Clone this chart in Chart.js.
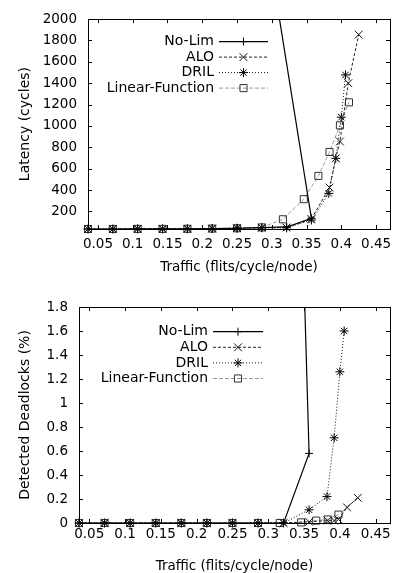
<!DOCTYPE html>
<html>
<head>
<meta charset="utf-8">
<script src="https://cdn.jsdelivr.net/npm/chart.js@4.4.0/dist/chart.umd.min.js"></script>
<style>
    html, body { margin: 0; padding: 0; background: #fff; }
    .box { position: absolute; left: 0; width: 408px; }
    #top-box { top: 0; height: 286px; }
    #bottom-box { top: 286px; height: 287px; }
</style>
</head>
<body>
<div class="box" id="top-box"><canvas id="latency-chart"></canvas></div>
<div class="box" id="bottom-box"><canvas id="deadlock-chart"></canvas></div>
<script>
// series names:
const seriesNames = ['No-Lim', 'ALO', 'DRIL', 'Linear-Function'];

// traffic (x) for each series:
const noLimTraffic = [0.0357, 0.0714, 0.1071, 0.1429, 0.1786, 0.2143, 0.25, 0.2857, 0.3214, 0.357, 0.300];
const aloTraffic = [0.0357, 0.0714, 0.1071, 0.1429, 0.1786, 0.2143, 0.25, 0.2857, 0.3214, 0.357, 0.383, 0.392, 0.398, 0.410, 0.425];
const drilTraffic = [0.0357, 0.0714, 0.1071, 0.1429, 0.1786, 0.2143, 0.25, 0.2857, 0.3214, 0.357, 0.382, 0.392, 0.400, 0.406];
const linearTraffic = [0.0357, 0.0714, 0.1071, 0.1429, 0.1786, 0.2143, 0.25, 0.2857, 0.316, 0.346, 0.367, 0.383, 0.398, 0.411];

// latency (cycles):
const noLimLatency = [36, 36, 37, 37, 38, 40, 43, 48, 55, 136, 2450];
const aloLatency = [36, 36, 37, 37, 38, 40, 43, 48, 50, 130, 424, 697, 855, 1400, 1855];
const drilLatency = [36, 36, 37, 37, 38, 40, 43, 48, 47, 120, 369, 697, 1082, 1478];
const linearLatency = [36, 36, 37, 37, 38, 40, 43, 51, 127, 315, 533, 757, 1006, 1221];

// detected deadlocks (%):
const noLimDeadlocks = [0, 0, 0, 0, 0, 0, 0, 0, 0, 0.58, 12.2];
const aloDeadlocks = [0, 0, 0, 0, 0, 0, 0, 0, 0, 0.01, 0.02, 0.02, 0.03, 0.13, 0.21];
const drilDeadlocks = [0, 0, 0, 0, 0, 0, 0, 0, 0, 0.11, 0.22, 0.71, 1.26, 1.60];
const linearDeadlocks = [0, 0, 0, 0, 0, 0, 0, 0, 0, 0.005, 0.02, 0.03, 0.07, null];

// tick labels:
const trafficTicks = [0.05, 0.1, 0.15, 0.2, 0.25, 0.3, 0.35, 0.4, 0.45];
const latencyTicks = [200, 400, 600, 800, 1000, 1200, 1400, 1600, 1800, 2000];
const deadlockTicks = [0, 0.2, 0.4, 0.6, 0.8, 1, 1.2, 1.4, 1.6, 1.8];

const FONT = 'DejaVu Sans';

function points(xs, ys) {
    return xs.map((x, i) => ({ x: x, y: ys[i] }));
}

// gnuplot-ish line styles, one per series:
function makeDatasets(ysList) {
    const xsList = [noLimTraffic, aloTraffic, drilTraffic, linearTraffic];
    const styles = [
        { borderColor: '#000', borderWidth: 1.2, borderDash: [], pointStyle: 'cross', pointRadius: 4, pointBorderColor: '#000' },
        { borderColor: '#222', borderWidth: 1, borderDash: [3, 2], pointStyle: 'crossRot', pointRadius: 5.5, pointBorderColor: '#111' },
        { borderColor: '#111', borderWidth: 1, borderDash: [1, 2], pointStyle: 'star', pointRadius: 4.5, pointBorderColor: '#000' },
        { borderColor: '#999', borderWidth: 1, borderDash: [4, 2], pointStyle: 'rect', pointRadius: 5, pointBorderColor: '#333' }
    ];
    return seriesNames.map((name, i) => Object.assign({
        label: name,
        data: points(xsList[i], ysList[i]),
        pointBorderWidth: 1,
        pointBackgroundColor: 'rgba(0,0,0,0)',
        pointHoverRadius: styles[i].pointRadius,
        tension: 0,
        fill: false,
        clip: { left: 8, right: 8, top: 0, bottom: 8 }
    }, styles[i]));
}

// box round the plot + inward tick marks on all four sides:
const frameTicks = {
    id: 'frameTicks',
    afterDatasetsDraw(chart) {
        const ctx = chart.ctx;
        const a = chart.chartArea;
        const len = 4;
        ctx.save();
        ctx.strokeStyle = '#000';
        ctx.lineWidth = 1;
        ctx.beginPath();
        chart.scales.x.ticks.forEach(t => {
            const px = Math.round(chart.scales.x.getPixelForValue(t.value)) + 0.5;
            ctx.moveTo(px, a.bottom); ctx.lineTo(px, a.bottom - len);
            ctx.moveTo(px, a.top); ctx.lineTo(px, a.top + len);
        });
        chart.scales.y.ticks.forEach(t => {
            const py = Math.round(chart.scales.y.getPixelForValue(t.value)) + 0.5;
            ctx.moveTo(a.left, py); ctx.lineTo(a.left + len, py);
            ctx.moveTo(a.right, py); ctx.lineTo(a.right - len, py);
        });
        ctx.stroke();
        ctx.strokeRect(Math.round(a.left) + 0.5, Math.round(a.top) + 0.5,
            Math.round(a.right - a.left), Math.round(a.bottom - a.top));
        ctx.restore();
    }
};

// legend inside the plot: text right-aligned, then a line sample with its marker
const keyLegend = {
    id: 'keyLegend',
    afterDraw(chart, args, opts) {
        const ctx = chart.ctx;
        const a = chart.chartArea;
        chart.data.datasets.forEach((ds, i) => {
            const y = a.top + opts.top + i * opts.row;
            const x2 = a.right - opts.right;
            const x1 = x2 - opts.len;
            ctx.save();
            ctx.font = '14px "' + FONT + '"';
            ctx.fillStyle = '#000';
            ctx.textAlign = 'right';
            ctx.textBaseline = 'middle';
            ctx.fillText(ds.label, x1 - opts.gap, y);
            ctx.strokeStyle = ds.borderColor;
            ctx.lineWidth = ds.borderWidth;
            ctx.setLineDash(ds.borderDash);
            ctx.beginPath();
            ctx.moveTo(x1, y);
            ctx.lineTo(x2, y);
            ctx.stroke();
            ctx.setLineDash([]);
            ctx.strokeStyle = ds.pointBorderColor;
            ctx.fillStyle = ds.pointBackgroundColor;
            ctx.lineWidth = ds.pointBorderWidth;
            Chart.helpers.drawPoint(ctx, {
                pointStyle: ds.pointStyle, radius: ds.pointRadius, rotation: 0, borderWidth: ds.pointBorderWidth
            }, (x1 + x2) / 2, y);
            ctx.restore();
        });
    }
};

function numLabel(v) {
    return String(+Number(v).toFixed(2));
}

function makeChart(canvasId, ysList, cfg) {
    return new Chart(document.getElementById(canvasId), {
        type: 'line',
        data: { datasets: makeDatasets(ysList) },
        plugins: [frameTicks, keyLegend],
        options: {
            responsive: true,
            maintainAspectRatio: false,
            animation: false,
            events: [],
            layout: { padding: { left: 0, top: cfg.padTop, right: 18, bottom: 0 } },
            plugins: {
                legend: { display: false },
                tooltip: { enabled: false },
                keyLegend: cfg.legend
            },
            scales: {
                x: {
                    type: 'linear',
                    min: 0.0357,
                    max: 0.47,
                    afterBuildTicks: s => { s.ticks = trafficTicks.map(v => ({ value: v })); },
                    afterFit: s => { s.height = cfg.xHeight; },
                    grid: { display: false, drawTicks: false },
                    border: { display: false },
                    ticks: {
                        autoSkip: false, maxRotation: 0, padding: cfg.xPad, color: '#000',
                        font: { family: FONT, size: 13.5 },
                        callback: numLabel
                    },
                    title: {
                        display: true, text: 'Traffic (flits/cycle/node)', color: '#000',
                        font: { family: FONT, size: 13.5, lineHeight: 1 },
                        padding: { top: 0, bottom: cfg.xTitlePad }
                    }
                },
                y: {
                    type: 'linear',
                    min: cfg.yMin,
                    max: cfg.yMax,
                    afterBuildTicks: s => { s.ticks = cfg.yTicks.map(v => ({ value: v })); },
                    afterFit: s => { s.width = cfg.yWidth; },
                    grid: { display: false, drawTicks: false },
                    border: { display: false },
                    ticks: {
                        padding: 11, color: '#000',
                        font: { family: FONT, size: 13.5 },
                        callback: numLabel
                    },
                    title: {
                        display: true, text: cfg.yTitle, color: '#000',
                        font: { family: FONT, size: 14, lineHeight: 1 },
                        padding: { top: 18, bottom: 0 }
                    }
                }
            }
        }
    });
}

window.onload = function() {
    makeChart('latency-chart', [noLimLatency, aloLatency, drilLatency, linearLatency], {
        padTop: 13, xHeight: 57, yWidth: 88, xPad: 7, xTitlePad: 12,
        yMin: 36, yMax: 2000, yTicks: latencyTicks, yTitle: 'Latency (cycles)',
        legend: { top: 22.5, row: 15.5, right: 122, len: 49, gap: 5 }
    });
    makeChart('deadlock-chart', [noLimDeadlocks, aloDeadlocks, drilDeadlocks, linearDeadlocks], {
        padTop: 21, xHeight: 50, yWidth: 79, xPad: 3, xTitlePad: 0,
        yMin: 0, yMax: 1.8, yTicks: deadlockTicks, yTitle: 'Detected Deadlocks (%)',
        legend: { top: 24.7, row: 15.6, right: 127, len: 50, gap: 5 }
    });
};
</script>
</body>
</html>
